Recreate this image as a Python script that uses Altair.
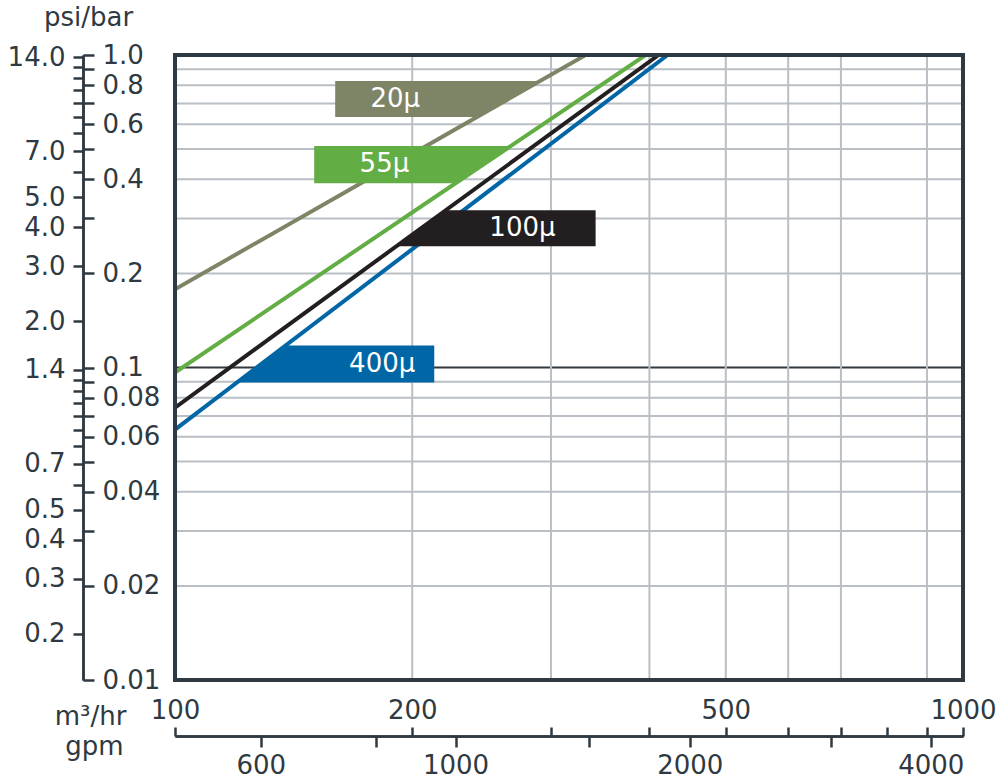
import math
import altair as alt
import pandas as pd

# ---------------- data ----------------
series = ["20μ", "55μ", "100μ", "400μ"]
colors = ["#7e8566", "#62ae45", "#231f20", "#0066a6"]
start_flow = [100, 100, 100, 100]          # m3/hr
start_bar = [0.178, 0.0964, 0.0744, 0.0633]  # bar at 100 m3/hr
end_flow = [332, 395.6, 410.9, 421.9]        # m3/hr where curve reaches 1.0 bar
end_bar = [1.0, 1.0, 1.0, 1.0]

# label flags: pressure band (bar), fixed edge (m3/hr), which side is fixed
flag_top = [0.825, 0.511, 0.3186, 0.1176]
flag_bottom = [0.633, 0.389, 0.2443, 0.0895]
flag_fixed = [159.7, 150.2, 341.8, 213.3]
flag_fixed_side = ["left", "left", "right", "right"]
label_flow = [190.3, 184.4, 276.0, 183.2]
label_bar = [0.723, 0.447, 0.279, 0.1023]

grid_bar = [0.02, 0.03, 0.04, 0.05, 0.06, 0.07, 0.08, 0.09,
            0.2, 0.3, 0.4, 0.5, 0.6, 0.7, 0.8, 0.9]
grid_bar_dark = [0.1]
grid_flow = [200, 300, 400, 500, 600, 700, 900]
frame_flow = [100, 1000]
frame_bar = [0.01, 1.0]

bar_ticks = [0.01, 0.02, 0.03, 0.04, 0.05, 0.06, 0.07, 0.08, 0.09,
             0.1, 0.2, 0.3, 0.4, 0.5, 0.6, 0.7, 0.8, 0.9, 1.0]
bar_labels = [1.0, 0.8, 0.6, 0.4, 0.2, 0.1, 0.08, 0.06, 0.04, 0.02, 0.01]
PSI_PER_BAR = 14.25
psi_ticks = [14, 13, 12, 11, 10, 9, 8, 7, 6, 5, 4, 3, 2, 1.4, 1.3, 1.2, 1.1,
             1.0, 0.9, 0.8, 0.7, 0.6, 0.5, 0.4, 0.3, 0.2]
psi_labels = [14.0, 7.0, 5.0, 4.0, 3.0, 2.0, 1.4, 0.7, 0.5, 0.4, 0.3, 0.2]
m3_ticks = [100, 200, 300, 400, 500, 600, 700, 800, 900, 1000]
m3_labels = [100, 200, 500, 1000]
gpm_ticks_at_m3 = [128.5, 180, 227, 335, 450, 680, 910]
gpm_tick_labels = ["600", "", "1000", "", "2000", "", "4000"]

# ---------------- styling ----------------
FONT = "DejaVu Sans"
INK = "#2f3941"
GRID = "#b9bfc4"
W, H = 788, 625
FS = 26

xs = alt.Scale(type="log", domain=[100, 1000], nice=False)
ys = alt.Scale(type="log", domain=[0.01, 1], nice=False)
cscale = alt.Scale(domain=series, range=colors)


def flow_on_line(i, p):
    s = (math.log10(end_bar[i]) - math.log10(start_bar[i])) / (
        math.log10(end_flow[i]) - math.log10(start_flow[i]))
    return start_flow[i] * 10 ** ((math.log10(p) - math.log10(start_bar[i])) / s)


lines_df = pd.DataFrame(
    [{"s": series[i], "flow": start_flow[i], "bar": start_bar[i], "o": 0} for i in range(4)]
    + [{"s": series[i], "flow": end_flow[i], "bar": end_bar[i], "o": 1} for i in range(4)]
)

flag_rows = []
for i in range(4):
    for p in (flag_bottom[i], flag_top[i]):
        on_line = flow_on_line(i, p)
        if flag_fixed_side[i] == "left":
            a, b = flag_fixed[i], on_line
        else:
            a, b = on_line, flag_fixed[i]
        flag_rows.append({"s": series[i], "bar": p, "x1": a, "x2": b})
flags_df = pd.DataFrame(flag_rows)

labels_df = pd.DataFrame({"s": series, "flow": label_flow, "bar": label_bar})
frame_df = pd.DataFrame({"x1": [frame_flow[0]], "x2": [frame_flow[1]],
                         "y1": [frame_bar[0]], "y2": [frame_bar[1]]})

# axes
psi_codes = ",".join(str(int(round(v * 10))) for v in psi_labels)
psi_axis = alt.Axis(
    orient="left", offset=92, values=[p / PSI_PER_BAR for p in psi_ticks],
    labelExpr=f"indexof([{psi_codes}], round(datum.value*{PSI_PER_BAR*10})) >= 0 ? format(datum.value*{PSI_PER_BAR}, '.1f') : ''",
    grid=False, domain=True, domainColor=INK, domainWidth=2.5,
    ticks=True, tickColor=INK, tickWidth=2.5, tickSize=10,
    labelPadding=8, labelFontSize=FS, labelFont=FONT, labelColor=INK,
    labelOverlap=False, labelBaseline="middle",
    title="psi/bar", titleAngle=0, titleX=5, titleY=-30, titleAlign="center",
    titleBaseline="alphabetic", titleFontSize=FS, titleFont=FONT,
    titleFontWeight="normal", titleColor=INK,
)
bar_codes = ",".join(str(int(round(v * 100))) for v in bar_labels)
bar_axis = alt.Axis(
    orient="right", offset=-(W + 92), values=bar_ticks,
    labelExpr=f"indexof([{bar_codes}], round(datum.value*100)) >= 0 ? (datum.value == 1 ? '1.0' : format(datum.value, '~g')) : ''",
    grid=False, domain=True, domainColor=INK, domainWidth=2.5,
    ticks=True, tickColor=INK, tickWidth=2.5, tickSize=11,
    labelPadding=8, labelFontSize=FS, labelFont=FONT, labelColor=INK,
    labelOverlap=False, labelBaseline="middle", labelAlign="left", title=None,
)
m3_list = ",".join(str(v) for v in m3_labels)
m3_axis = alt.Axis(
    orient="top", offset=-(H + 56), values=m3_ticks,
    labelExpr=f"indexof([{m3_list}], datum.value) >= 0 ? format(datum.value, 'd') : ''",
    grid=False, domain=True, domainColor=INK, domainWidth=2.5,
    ticks=True, tickColor=INK, tickWidth=2.5, tickSize=9,
    labelPadding=4, labelFontSize=FS, labelFont=FONT, labelColor=INK,
    labelOverlap=False, labelFlush=False, labelAngle=0,
    title="m³/hr", titleAngle=0, titleX=-85, titleY=-12, titleAlign="center",
    titleBaseline="alphabetic", titleFontSize=FS, titleFont=FONT,
    titleFontWeight="normal", titleColor=INK,
)
gpm_pos = ",".join(str(v) for v in gpm_ticks_at_m3)
gpm_lab = ",".join(f"'{v}'" for v in gpm_tick_labels)
gpm_axis = alt.Axis(
    orient="bottom", offset=56, values=gpm_ticks_at_m3,
    labelExpr=f"[{gpm_lab}][indexof([{gpm_pos}], datum.value)]",
    grid=False, domain=True, domainColor=INK, domainWidth=2.5,
    ticks=True, tickColor=INK, tickWidth=2.5, tickSize=11,
    labelPadding=5, labelFontSize=FS, labelFont=FONT, labelColor=INK,
    labelOverlap=False, labelFlush=False, labelAngle=0,
    title="gpm", titleAngle=0, titleX=-81, titleY=18, titleAlign="center",
    titleBaseline="alphabetic", titleFontSize=FS, titleFont=FONT,
    titleFontWeight="normal", titleColor=INK,
)

# ---------------- layers ----------------
hgrid = alt.Chart(pd.DataFrame({"bar": grid_bar})).mark_rule(
    color=GRID, strokeWidth=2
).encode(y=alt.Y("bar:Q", scale=ys, axis=psi_axis))

hgrid_dark = alt.Chart(pd.DataFrame({"bar": grid_bar_dark})).mark_rule(
    color="#33383c", strokeWidth=2
).encode(y=alt.Y("bar:Q", scale=ys, axis=None))

vgrid = alt.Chart(pd.DataFrame({"flow": grid_flow})).mark_rule(
    color=GRID, strokeWidth=2
).encode(x=alt.X("flow:Q", scale=xs, axis=m3_axis))

lines = alt.Chart(lines_df).mark_line(strokeWidth=4, clip=True).encode(
    x=alt.X("flow:Q", scale=xs, axis=gpm_axis),
    y=alt.Y("bar:Q", scale=ys, axis=bar_axis),
    color=alt.Color("s:N", scale=cscale, legend=None),
    order="o:Q",
)

flags = alt.Chart(flags_df).mark_area(orient="horizontal", opacity=1, clip=True).encode(
    y=alt.Y("bar:Q", scale=ys, axis=None),
    x=alt.X("x1:Q", scale=xs, axis=None),
    x2="x2:Q",
    color=alt.Color("s:N", scale=cscale, legend=None),
    detail="s:N",
)

texts = alt.Chart(labels_df).mark_text(
    color="white", fontSize=FS, font=FONT, align="center", baseline="middle"
).encode(
    x=alt.X("flow:Q", scale=xs, axis=None),
    y=alt.Y("bar:Q", scale=ys, axis=None),
    text="s:N",
)

frame = alt.Chart(frame_df).mark_rect(
    fill=None, fillOpacity=0, stroke=INK, strokeWidth=4
).encode(
    x=alt.X("x1:Q", scale=xs, axis=None), x2="x2:Q",
    y=alt.Y("y1:Q", scale=ys, axis=None), y2="y2:Q",
)

chart = alt.layer(hgrid, hgrid_dark, vgrid, lines, flags, texts, frame).resolve_axis(
    x="independent", y="independent"
).properties(
    width=W, height=H,
    autosize=alt.AutoSizeParams(type="none"),
    padding={"left": 175, "top": 55, "right": 37, "bottom": 104},
    background="white",
).configure_view(stroke=None).configure(font=FONT)

chart.save("out.html", embed_options={"renderer": "svg", "actions": False})
